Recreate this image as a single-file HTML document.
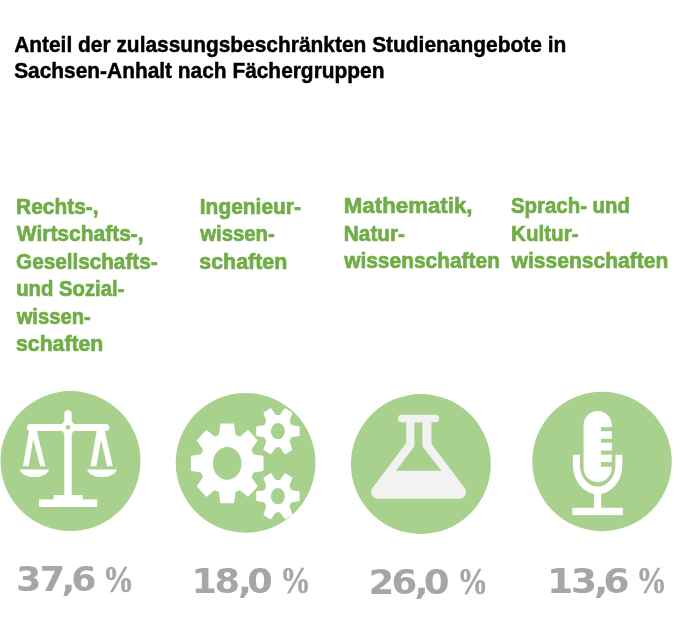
<!DOCTYPE html>
<html lang="de"><head><meta charset="utf-8"><title>Anteil der zulassungsbeschränkten Studienangebote</title>
<style>html,body{margin:0;padding:0;background:#fff}svg{display:block}</style></head><body>
<svg width="684" height="628" viewBox="0 0 684 628">
<rect width="684" height="628" fill="#fff"/>
<text transform="translate(14.13 51.8) scale(0.9736 1)" font-family="'Liberation Sans', sans-serif" font-weight="bold" font-size="21.5" fill="#000" stroke="#000" stroke-width="0.45" stroke-linejoin="round">Anteil der zulassungsbeschränkten Studienangebote in</text>
<text transform="translate(14.18 78.0) scale(0.9722 1)" font-family="'Liberation Sans', sans-serif" font-weight="bold" font-size="21.5" fill="#000" stroke="#000" stroke-width="0.45" stroke-linejoin="round">Sachsen-Anhalt nach Fächergruppen</text>
<text transform="translate(16.11 213.5) scale(0.9722 1)" font-family="'Liberation Sans', sans-serif" font-weight="bold" font-size="21.5" fill="#70AD47" stroke="#70AD47" stroke-width="0.7" stroke-linejoin="round">Rechts-,</text>
<text transform="translate(16.79 241.2) scale(0.9757 1)" font-family="'Liberation Sans', sans-serif" font-weight="bold" font-size="21.5" fill="#70AD47" stroke="#70AD47" stroke-width="0.7" stroke-linejoin="round">Wirtschafts-,</text>
<text transform="translate(16.1 268.5) scale(0.963 1)" font-family="'Liberation Sans', sans-serif" font-weight="bold" font-size="21.5" fill="#70AD47" stroke="#70AD47" stroke-width="0.7" stroke-linejoin="round">Gesellschafts-</text>
<text transform="translate(16.17 296.0) scale(0.9438 1)" font-family="'Liberation Sans', sans-serif" font-weight="bold" font-size="21.5" fill="#70AD47" stroke="#70AD47" stroke-width="0.7" stroke-linejoin="round">und Sozial-</text>
<text transform="translate(16.67 323.6) scale(0.939 1)" font-family="'Liberation Sans', sans-serif" font-weight="bold" font-size="21.5" fill="#70AD47" stroke="#70AD47" stroke-width="0.7" stroke-linejoin="round">wissen-</text>
<text transform="translate(16.01 351.3) scale(0.9883 1)" font-family="'Liberation Sans', sans-serif" font-weight="bold" font-size="21.5" fill="#70AD47" stroke="#70AD47" stroke-width="0.7" stroke-linejoin="round">schaften</text>
<text transform="translate(199.81 213.5) scale(0.9737 1)" font-family="'Liberation Sans', sans-serif" font-weight="bold" font-size="21.5" fill="#70AD47" stroke="#70AD47" stroke-width="0.7" stroke-linejoin="round">Ingenieur-</text>
<text transform="translate(200.17 241.0) scale(0.9466 1)" font-family="'Liberation Sans', sans-serif" font-weight="bold" font-size="21.5" fill="#70AD47" stroke="#70AD47" stroke-width="0.7" stroke-linejoin="round">wissen-</text>
<text transform="translate(199.3 268.5) scale(0.9964 1)" font-family="'Liberation Sans', sans-serif" font-weight="bold" font-size="21.5" fill="#70AD47" stroke="#70AD47" stroke-width="0.7" stroke-linejoin="round">schaften</text>
<text transform="translate(343.76 212.7) scale(1.0044 1)" font-family="'Liberation Sans', sans-serif" font-weight="bold" font-size="22.2" fill="#70AD47" stroke="#70AD47" stroke-width="0.7" stroke-linejoin="round">Mathematik,</text>
<text transform="translate(343.83 240.6) scale(0.9369 1)" font-family="'Liberation Sans', sans-serif" font-weight="bold" font-size="22.2" fill="#70AD47" stroke="#70AD47" stroke-width="0.7" stroke-linejoin="round">Natur-</text>
<text transform="translate(344.16 267.7) scale(0.9426 1)" font-family="'Liberation Sans', sans-serif" font-weight="bold" font-size="22.2" fill="#70AD47" stroke="#70AD47" stroke-width="0.7" stroke-linejoin="round">wissenschaften</text>
<text transform="translate(510.89 212.7) scale(0.9204 1)" font-family="'Liberation Sans', sans-serif" font-weight="bold" font-size="22.2" fill="#70AD47" stroke="#70AD47" stroke-width="0.7" stroke-linejoin="round">Sprach- und</text>
<text transform="translate(511.04 240.6) scale(0.9287 1)" font-family="'Liberation Sans', sans-serif" font-weight="bold" font-size="22.2" fill="#70AD47" stroke="#70AD47" stroke-width="0.7" stroke-linejoin="round">Kultur-</text>
<text transform="translate(511.56 267.7) scale(0.9481 1)" font-family="'Liberation Sans', sans-serif" font-weight="bold" font-size="22.2" fill="#70AD47" stroke="#70AD47" stroke-width="0.7" stroke-linejoin="round">wissenschaften</text>
<text transform="translate(0 591.2) scale(1.0616 1)" x="15.1 37.44 57.86 67.07" font-family="'DejaVu Sans', 'Liberation Sans', sans-serif" font-weight="bold" font-size="34.3" fill="#A6A6A6">37,6</text>
<text transform="translate(102.97 591.6) scale(0.8179 1)" font-family="'Liberation Serif', serif" font-weight="bold" font-size="37.8" fill="#A6A6A6" stroke="#A6A6A6" stroke-width="0.5" stroke-linejoin="round">%</text>
<text transform="translate(0 592.7) scale(1.0705 1)" x="178.82 200.28 222.3 231.09" font-family="'DejaVu Sans', 'Liberation Sans', sans-serif" font-weight="bold" font-size="34.3" fill="#A6A6A6">18,0</text>
<text transform="translate(280.2 593.1) scale(0.8082 1)" font-family="'Liberation Serif', serif" font-weight="bold" font-size="37.8" fill="#A6A6A6" stroke="#A6A6A6" stroke-width="0.5" stroke-linejoin="round">%</text>
<text transform="translate(0 594.0) scale(1.0832 1)" x="340.32 361.52 382.76 391.29" font-family="'DejaVu Sans', 'Liberation Sans', sans-serif" font-weight="bold" font-size="34.3" fill="#A6A6A6">26,0</text>
<text transform="translate(457.41 594.4) scale(0.805 1)" font-family="'Liberation Serif', serif" font-weight="bold" font-size="37.8" fill="#A6A6A6" stroke="#A6A6A6" stroke-width="0.5" stroke-linejoin="round">%</text>
<text transform="translate(0 592.7) scale(1.1057 1)" x="494.72 516.14 537.17 545.54" font-family="'DejaVu Sans', 'Liberation Sans', sans-serif" font-weight="bold" font-size="34.3" fill="#A6A6A6">13,6</text>
<text transform="translate(636.43 593.1) scale(0.7985 1)" font-family="'Liberation Serif', serif" font-weight="bold" font-size="37.8" fill="#A6A6A6" stroke="#A6A6A6" stroke-width="0.5" stroke-linejoin="round">%</text>
<circle cx="70.5" cy="461.1" r="70.0" fill="#A9D18E"/>
<circle cx="245.6" cy="462.8" r="69.9" fill="#A9D18E"/>
<circle cx="420.9" cy="464.0" r="69.95" fill="#A9D18E"/>
<circle cx="602.0" cy="461.4" r="69.75" fill="#A9D18E"/>
<g fill="#fff" stroke="none">
<path d="M64.3,414.0 a3.7,3.7 0 0 1 7.4,0 V496 h-7.4Z"/>
<rect x="26.8" y="423.9" width="82.6" height="7.1" rx="3.55"/>
<circle cx="68.0" cy="427.4" r="6.8"/>
<path fill-rule="evenodd" d="M29.1,430.5 H36.7 L45.3,466.3 H23 Z M33.2,439.3 L40.2,466.3 H28.7Z"/>
<path fill-rule="evenodd" d="M96.8,430.5 H104.7 L112.8,466.3 H90.5 Z M101.05,439.6 L107.1,466.3 H96.3Z"/>
<path d="M19.6,469.4 H49.2 C47.5,474.5 41,477 34.4,477 C27.8,477 21.3,474.5 19.6,469.4Z"/>
<path d="M87,469.4 H116.9 C115.2,474.5 108.6,477 101.95,477 C95.3,477 88.7,474.5 87,469.4Z"/>
<rect x="53.6" y="495" width="29" height="5"/>
<rect x="39" y="499.4" width="58.3" height="7.6"/>
</g>
<circle cx="68.0" cy="427.3" r="2.35" fill="#A9D18E"/>
<path transform="translate(227.2,463.4) scale(0.91,1)" d="M28.31,-9.78 A1.20,1.20 0 0 0 29.24,-9.05 L39.22,-7.60 A0.80,0.80 0 0 1 39.90,-6.81 L39.90,6.81 A0.80,0.80 0 0 1 39.22,7.60 L29.24,9.05 A1.20,1.20 0 0 0 28.31,9.78 L26.93,13.10 A1.20,1.20 0 0 0 27.08,14.28 L33.10,22.36 A0.80,0.80 0 0 1 33.03,23.40 L23.40,33.03 A0.80,0.80 0 0 1 22.36,33.10 L14.28,27.08 A1.20,1.20 0 0 0 13.10,26.93 L9.78,28.31 A1.20,1.20 0 0 0 9.05,29.24 L7.60,39.22 A0.80,0.80 0 0 1 6.81,39.90 L-6.81,39.90 A0.80,0.80 0 0 1 -7.60,39.22 L-9.05,29.24 A1.20,1.20 0 0 0 -9.78,28.31 L-13.10,26.93 A1.20,1.20 0 0 0 -14.28,27.08 L-22.36,33.10 A0.80,0.80 0 0 1 -23.40,33.03 L-33.03,23.40 A0.80,0.80 0 0 1 -33.10,22.36 L-27.08,14.28 A1.20,1.20 0 0 0 -26.93,13.10 L-28.31,9.78 A1.20,1.20 0 0 0 -29.24,9.05 L-39.22,7.60 A0.80,0.80 0 0 1 -39.90,6.81 L-39.90,-6.81 A0.80,0.80 0 0 1 -39.22,-7.60 L-29.24,-9.05 A1.20,1.20 0 0 0 -28.31,-9.78 L-26.93,-13.10 A1.20,1.20 0 0 0 -27.08,-14.28 L-33.10,-22.36 A0.80,0.80 0 0 1 -33.03,-23.40 L-23.40,-33.03 A0.80,0.80 0 0 1 -22.36,-33.10 L-14.28,-27.08 A1.20,1.20 0 0 0 -13.10,-26.93 L-9.78,-28.31 A1.20,1.20 0 0 0 -9.05,-29.24 L-7.60,-39.22 A0.80,0.80 0 0 1 -6.81,-39.90 L6.81,-39.90 A0.80,0.80 0 0 1 7.60,-39.22 L9.05,-29.24 A1.20,1.20 0 0 0 9.78,-28.31 L13.10,-26.93 A1.20,1.20 0 0 0 14.28,-27.08 L22.36,-33.10 A0.80,0.80 0 0 1 23.40,-33.03 L33.03,-23.40 A0.80,0.80 0 0 1 33.10,-22.36 L27.08,-14.28 A1.20,1.20 0 0 0 26.93,-13.10 Z M-15.71,0 a15.71,16.40 0 1,0 31.43,0 a15.71,16.40 0 1,0 -31.43,0Z" fill="#fff" fill-rule="evenodd"/>
<path transform="translate(277.9,431.2) scale(0.9,1)" d="M14.89,-6.50 A0.90,0.90 0 0 0 15.53,-6.06 L23.59,-4.83 A0.60,0.60 0 0 1 24.10,-4.23 L24.10,4.23 A0.60,0.60 0 0 1 23.59,4.83 L15.53,6.06 A0.90,0.90 0 0 0 14.89,6.50 L13.07,9.65 A0.90,0.90 0 0 0 13.01,10.42 L15.98,18.02 A0.60,0.60 0 0 1 15.72,18.75 L8.38,22.99 A0.60,0.60 0 0 1 7.61,22.84 L2.52,16.48 A0.90,0.90 0 0 0 1.82,16.14 L-1.82,16.14 A0.90,0.90 0 0 0 -2.52,16.48 L-7.61,22.84 A0.60,0.60 0 0 1 -8.38,22.99 L-15.72,18.75 A0.60,0.60 0 0 1 -15.98,18.02 L-13.01,10.42 A0.90,0.90 0 0 0 -13.07,9.65 L-14.89,6.50 A0.90,0.90 0 0 0 -15.53,6.06 L-23.59,4.83 A0.60,0.60 0 0 1 -24.10,4.23 L-24.10,-4.23 A0.60,0.60 0 0 1 -23.59,-4.83 L-15.53,-6.06 A0.90,0.90 0 0 0 -14.89,-6.50 L-13.07,-9.65 A0.90,0.90 0 0 0 -13.01,-10.42 L-15.98,-18.02 A0.60,0.60 0 0 1 -15.72,-18.75 L-8.38,-22.99 A0.60,0.60 0 0 1 -7.61,-22.84 L-2.52,-16.48 A0.90,0.90 0 0 0 -1.82,-16.14 L1.82,-16.14 A0.90,0.90 0 0 0 2.52,-16.48 L7.61,-22.84 A0.60,0.60 0 0 1 8.38,-22.99 L15.72,-18.75 A0.60,0.60 0 0 1 15.98,-18.02 L13.01,-10.42 A0.90,0.90 0 0 0 13.07,-9.65 Z M-7.78,0 a7.78,8.10 0 1,0 15.56,0 a7.78,8.10 0 1,0 -15.56,0Z" fill="#fff" fill-rule="evenodd"/>
<path transform="translate(277.9,496.2) scale(0.9,1)" d="M14.89,-6.50 A0.90,0.90 0 0 0 15.53,-6.06 L23.59,-4.83 A0.60,0.60 0 0 1 24.10,-4.23 L24.10,4.23 A0.60,0.60 0 0 1 23.59,4.83 L15.53,6.06 A0.90,0.90 0 0 0 14.89,6.50 L13.07,9.65 A0.90,0.90 0 0 0 13.01,10.42 L15.98,18.02 A0.60,0.60 0 0 1 15.72,18.75 L8.38,22.99 A0.60,0.60 0 0 1 7.61,22.84 L2.52,16.48 A0.90,0.90 0 0 0 1.82,16.14 L-1.82,16.14 A0.90,0.90 0 0 0 -2.52,16.48 L-7.61,22.84 A0.60,0.60 0 0 1 -8.38,22.99 L-15.72,18.75 A0.60,0.60 0 0 1 -15.98,18.02 L-13.01,10.42 A0.90,0.90 0 0 0 -13.07,9.65 L-14.89,6.50 A0.90,0.90 0 0 0 -15.53,6.06 L-23.59,4.83 A0.60,0.60 0 0 1 -24.10,4.23 L-24.10,-4.23 A0.60,0.60 0 0 1 -23.59,-4.83 L-15.53,-6.06 A0.90,0.90 0 0 0 -14.89,-6.50 L-13.07,-9.65 A0.90,0.90 0 0 0 -13.01,-10.42 L-15.98,-18.02 A0.60,0.60 0 0 1 -15.72,-18.75 L-8.38,-22.99 A0.60,0.60 0 0 1 -7.61,-22.84 L-2.52,-16.48 A0.90,0.90 0 0 0 -1.82,-16.14 L1.82,-16.14 A0.90,0.90 0 0 0 2.52,-16.48 L7.61,-22.84 A0.60,0.60 0 0 1 8.38,-22.99 L15.72,-18.75 A0.60,0.60 0 0 1 15.98,-18.02 L13.01,-10.42 A0.90,0.90 0 0 0 13.07,-9.65 Z M-7.78,0 a7.78,8.10 0 1,0 15.56,0 a7.78,8.10 0 1,0 -15.56,0Z" fill="#fff" fill-rule="evenodd"/>
<g fill="#F2F2F2">
<rect x="398" y="414.8" width="41.1" height="7.5" rx="3.75"/>
<path fill-rule="evenodd" stroke="#F2F2F2" stroke-width="0" d="M431.5,420 H406.2 V442.9 L372.50,487.99 A6.7,6.7 0 0 0 377.87,498.70 H459.33 A6.7,6.7 0 0 0 464.67,487.96 L431.5,444.1Z M414.4,420 H422.4 V446.2 L441.3,470.76 H396.08 L414.4,446.2Z"/>
</g>
<rect x="414.4" y="419" width="8" height="3.3" fill="#F2F2F2"/>
<g fill="#fff">
<rect x="583.6" y="411.1" width="28.2" height="71.1" rx="14.1"/>
<rect x="594.1" y="490" width="7.1" height="18"/>
<rect x="572.3" y="507.8" width="50.6" height="7.3"/>
<path d="M572.9,454.8 H579.9 V465.5 a17.75,21 0 0 0 35.5,0 V454.8 H622.3 V465.5 a24.7,28.6 0 0 1 -49.4,0Z"/>
</g>
<rect x="600.9" y="427.1" width="11.5" height="4.1" fill="#A9D18E"/>
<rect x="600.9" y="438.8" width="11.5" height="3.9" fill="#A9D18E"/>
<rect x="600.9" y="450.6" width="11.5" height="4.1" fill="#A9D18E"/>
<rect x="600.9" y="462.1" width="11.5" height="4.7" fill="#A9D18E"/>
</svg></body></html>
